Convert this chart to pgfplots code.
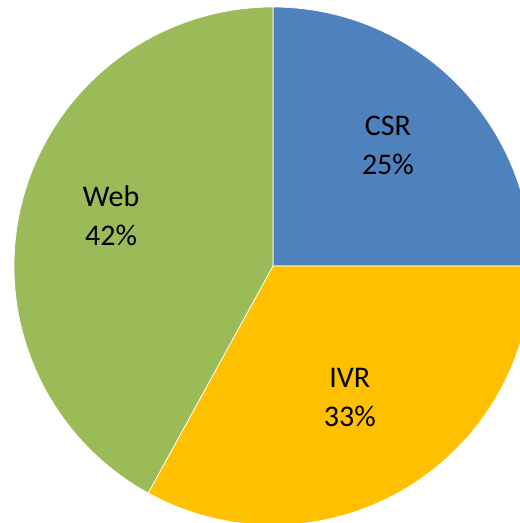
\documentclass[border=0pt]{standalone}
\usepackage{pgfplots}
\pgfplotsset{compat=1.18}
\usepackage{fontspec}
\setmainfont{Carlito}

\definecolor{csrblue}{HTML}{4F81BD}
\definecolor{ivrgold}{HTML}{FFC000}
\definecolor{webgreen}{HTML}{9BBB59}

% shares in percent
\def\csr{25}
\def\ivr{33}
\def\web{42}

\begin{document}
\begin{tikzpicture}
\pgfmathsetmacro{\aA}{90}
\pgfmathsetmacro{\aB}{90-3.6*\csr}
\pgfmathsetmacro{\aC}{\aB-3.6*\ivr}
\pgfmathsetmacro{\aD}{\aC-3.6*\web}
\begin{axis}[
    scale only axis,
    width=520bp, height=523bp,
    xmin=-1.054, xmax=0.954,
    ymin=-0.992, ymax=1.027,
    hide axis,
    clip=true,
    samples=120,
    slice/.style={draw=white, line width=0.7bp},
]
% CSR
\addplot[slice, fill=csrblue, domain=\aB:\aA, variable=\t]
    ({cos(\t)},{sin(\t)}) -- (axis cs:0,0) -- cycle;
% IVR
\addplot[slice, fill=ivrgold, domain=\aC:\aB, variable=\t]
    ({cos(\t)},{sin(\t)}) -- (axis cs:0,0) -- cycle;
% Web
\addplot[slice, fill=webgreen, domain=\aD:\aC, variable=\t]
    ({cos(\t)},{sin(\t)}) -- (axis cs:0,0) -- cycle;

\tikzset{lbl/.style={align=center, font=\fontsize{30bp}{39bp}\selectfont, text=black}}
\node[lbl] at (axis cs:0.444,0.467) {CSR\\25\%};
\node[lbl] at (axis cs:0.297,-0.506) {IVR\\33\%};
\node[lbl] at (axis cs:-0.625,0.193) {Web\\42\%};
\end{axis}
\pgfresetboundingbox
\path (current axis.south west) rectangle (current axis.north east);
\end{tikzpicture}
\end{document}
